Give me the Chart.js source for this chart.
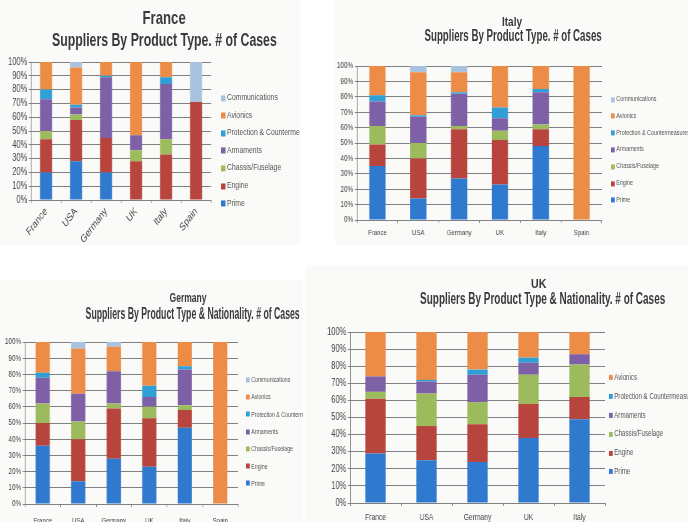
<!DOCTYPE html>
<html>
<head>
<meta charset="utf-8">
<script src="https://cdn.jsdelivr.net/npm/chart.js@4.4.0/dist/chart.umd.min.js"></script>
<style>
  body { margin: 0; background: #fff; width: 688px; height: 522px; position: relative; overflow: hidden;
         font-family: 'Liberation Sans', Arial, sans-serif; }
  .panel { position: absolute; background: #fafaf8; overflow: hidden; }
  .panel canvas { position: absolute; left: 0; top: 0; transform-origin: 0 0; }
  .ttl { position: absolute; white-space: nowrap; font-weight: bold; color: #3a3a3a; line-height: 1; }
  .leg { position: absolute; white-space: nowrap; color: #555; line-height: 1; transform-origin: 0 50%; }
  .leg span { display: inline-block; vertical-align: middle; margin-right: 2px; }
</style>
</head>
<body>
<div class="panel" id="pFrance"><canvas id="cFrance"></canvas></div>
<div class="panel" id="pItaly"><canvas id="cItaly"></canvas></div>
<div class="panel" id="pGermany"><canvas id="cGermany"></canvas></div>
<div class="panel" id="pUK"><canvas id="cUK"></canvas></div>

<script>
// product types, bottom of the stack first
const productTypes = ['Prime', 'Engine', 'Chassis/Fuselage', 'Armaments',
  'Protection & Countermeasures', 'Avionics', 'Communications'];
const typeColors = ['#2f79cf', '#b8453d', '#9cbb5c', '#7e60a7', '#2f9fd5', '#ec8c46', '#a9c3df'];

// France - % of cases
const franceCountries = ['France', 'USA', 'Germany', 'UK', 'Italy', 'Spain'];
const francePrime      = [20, 28, 20,  0,  0,  0];
const franceEngine     = [24, 30, 25, 28, 33, 71];
const franceChassis    = [ 6,  4,  0,  8, 11,  0];
const franceArmaments  = [23,  5, 44, 11, 40,  0];
const franceProtection = [ 7,  2,  1,  0,  5,  0];
const franceAvionics   = [20, 27, 10, 53, 11,  0];
const franceComms      = [ 0,  4,  0,  0,  0, 29];

// Italy
const italyCountries = ['France', 'USA', 'Germany', 'UK', 'Italy', 'Spain'];
const italyPrime      = [35, 14, 27, 23, 48,   0];
const italyEngine     = [14, 26, 32, 29, 11,   0];
const italyChassis    = [12, 10,  2,  6,  3,   0];
const italyArmaments  = [16, 17, 21,  8, 21,   0];
const italyProtection = [ 4,  1,  1,  7,  2,   0];
const italyAvionics   = [19, 28, 13, 27, 15, 100];
const italyComms      = [ 0,  4,  4,  0,  0,   0];

// Germany
const germanyCountries = ['France', 'USA', 'Germany', 'UK', 'Italy', 'Spain'];
const germanyPrime      = [36, 14, 28, 23, 47,   0];
const germanyEngine     = [14, 26, 31, 30, 11,   0];
const germanyChassis    = [12, 11,  3,  7,  3,   0];
const germanyArmaments  = [16, 17, 20,  6, 22,   0];
const germanyProtection = [ 3,  0,  0,  7,  2,   0];
const germanyAvionics   = [19, 28, 15, 27, 15, 100];
const germanyComms      = [ 0,  4,  3,  0,  0,   0];

// UK (no communications)
const ukCountries = ['France', 'USA', 'Germany', 'UK', 'Italy'];
const ukPrime      = [29, 25, 24, 38, 49];
const ukEngine     = [32, 20, 22, 20, 13];
const ukChassis    = [ 4, 19, 13, 17, 19];
const ukArmaments  = [ 9,  7, 16,  7,  6];
const ukProtection = [ 0,  1,  3,  3,  0];
const ukAvionics   = [26, 28, 22, 15, 13];

Chart.defaults.font.family = "'Liberation Sans', Arial, sans-serif";
Chart.defaults.animation = false;

// the photo is squeezed sideways, so canvases and texts are drawn wider and scaled down (k)
const panels = [
  {
    id: 'France', left: 0, top: 0, w: 300, h: 245, k: 0.75,
    // text, centre x, cap top, font size, target width
    titles: [['France', 164, 10, 19, 43], ['Suppliers By Product Type. # of Cases', 164, 33, 18, 225]],
    plot: { left: 31, right: 211, top: 62, bottom: 200 },
    yTick: 10, xTick: 11, rot: 45, xPad: 2,
    legend: { x: 221, y: 98, step: 17.6, size: 9.1, box: 6 },
    labels: franceCountries,
    series: [francePrime, franceEngine, franceChassis, franceArmaments, franceProtection, franceAvionics, franceComms]
  },
  {
    id: 'Italy', left: 335, top: 0, w: 353, h: 245, k: 0.75,
    titles: [['Italy', 177, 17, 13, 20], ['Suppliers By Product Type. # of Cases', 178, 30, 16, 177]],
    plot: { left: 22, right: 267, top: 66, bottom: 220 },
    yTick: 8.5, xTick: 8, rot: 0, xPad: 5,
    legend: { x: 276, y: 99, step: 16.8, size: 7.2, box: 5 },
    labels: italyCountries,
    series: [italyPrime, italyEngine, italyChassis, italyArmaments, italyProtection, italyAvionics, italyComms]
  },
  {
    id: 'Germany', left: 0, top: 280, w: 303, h: 242, k: 0.75,
    titles: [['Germany', 188, 14, 12, 37], ['Suppliers By Product Type & Nationality. # of Cases', 192, 28, 16, 214]],
    plot: { left: 25, right: 238, top: 62, bottom: 224 },
    yTick: 8.5, xTick: 8, rot: 0, xPad: 9,
    legend: { x: 246, y: 99, step: 17.3, size: 7, box: 5 },
    labels: germanyCountries,
    series: [germanyPrime, germanyEngine, germanyChassis, germanyArmaments, germanyProtection, germanyAvionics, germanyComms]
  },
  {
    id: 'UK', left: 305, top: 265, w: 383, h: 257, k: 0.75,
    titles: [['UK', 233, 15, 12, 15], ['Suppliers By Product Type & Nationality. # of Cases', 237, 28, 16, 245]],
    plot: { left: 45, right: 300, top: 67, bottom: 238 },
    yTick: 10, xTick: 9, rot: 0, xPad: 6,
    legend: { x: 304, y: 113, step: 18.8, size: 8.2, box: 5 },
    labels: ukCountries,
    series: [ukPrime, ukEngine, ukChassis, ukArmaments, ukProtection, ukAvionics]
  }
];

function buildPanel(p) {
  const div = document.getElementById('p' + p.id);
  Object.assign(div.style, { left: p.left + 'px', top: p.top + 'px', width: p.w + 'px', height: p.h + 'px' });

  p.titles.forEach(([text, cx, capTop, size, tw]) => {
    const t = document.createElement('div');
    t.className = 'ttl';
    t.textContent = text;
    t.style.fontSize = size + 'px';
    div.appendChild(t);
    const nat = t.offsetWidth;
    t.style.left = (cx - nat / 2) + 'px';
    t.style.top = (capTop - 0.13 * size) + 'px';
    t.style.transform = 'scaleX(' + (tw / nat) + ')';
  });

  // legend, top entry is the last series (like Excel)
  const n = p.series.length;
  for (let i = n - 1; i >= 0; i--) {
    const row = n - 1 - i;
    const e = document.createElement('div');
    e.className = 'leg';
    Object.assign(e.style, {
      left: p.legend.x + 'px', top: (p.legend.y + row * p.legend.step) + 'px', fontSize: p.legend.size + 'px',
      transform: 'translateY(-50%) scaleX(' + p.k + ')'
    });
    const sq = document.createElement('span');
    Object.assign(sq.style, { width: p.legend.box + 'px', height: p.legend.box + 'px', background: typeColors[i] });
    e.appendChild(sq);
    e.appendChild(document.createTextNode(productTypes[i]));
    div.appendChild(e);
  }

  const cv = document.getElementById('c' + p.id);
  const W = Math.round(p.w / p.k);
  cv.width = W;
  cv.height = p.h;
  cv.style.width = W + 'px';
  cv.style.height = p.h + 'px';
  cv.style.transform = 'scaleX(' + p.k + ')';

  const pl = p.plot.left / p.k, pr = p.plot.right / p.k;

  new Chart(cv.getContext('2d'), {
    type: 'bar',
    data: {
      labels: p.labels,
      datasets: p.series.map((vals, i) => ({
        label: productTypes[i],
        data: vals,
        backgroundColor: typeColors[i],
        barPercentage: 0.4,
        categoryPercentage: 1
      }))
    },
    options: {
      responsive: false,
      devicePixelRatio: 1,
      layout: { padding: { left: 0, top: p.plot.top, right: W - pr, bottom: 0 } },
      plugins: { legend: { display: false }, title: { display: false }, tooltip: { enabled: false } },
      scales: {
        x: {
          stacked: true,
          grid: { display: true, drawOnChartArea: false, offset: true, color: '#808080', tickLength: 3 },
          border: { color: '#808080' },
          ticks: { color: '#444', font: { size: p.xTick }, minRotation: p.rot, maxRotation: p.rot, autoSkip: false, padding: p.xPad },
          afterFit: s => { s.height = p.h - p.plot.bottom; }
        },
        y: {
          stacked: true, min: 0, max: 100,
          grid: { color: '#808080', tickLength: 3 },
          border: { color: '#808080' },
          ticks: { stepSize: 10, autoSkip: false, color: '#444', font: { size: p.yTick }, padding: 2, callback: v => v + '%' },
          afterFit: s => { s.width = pl; }
        }
      }
    }
  });
}

panels.forEach(buildPanel);
</script>
</body>
</html>
